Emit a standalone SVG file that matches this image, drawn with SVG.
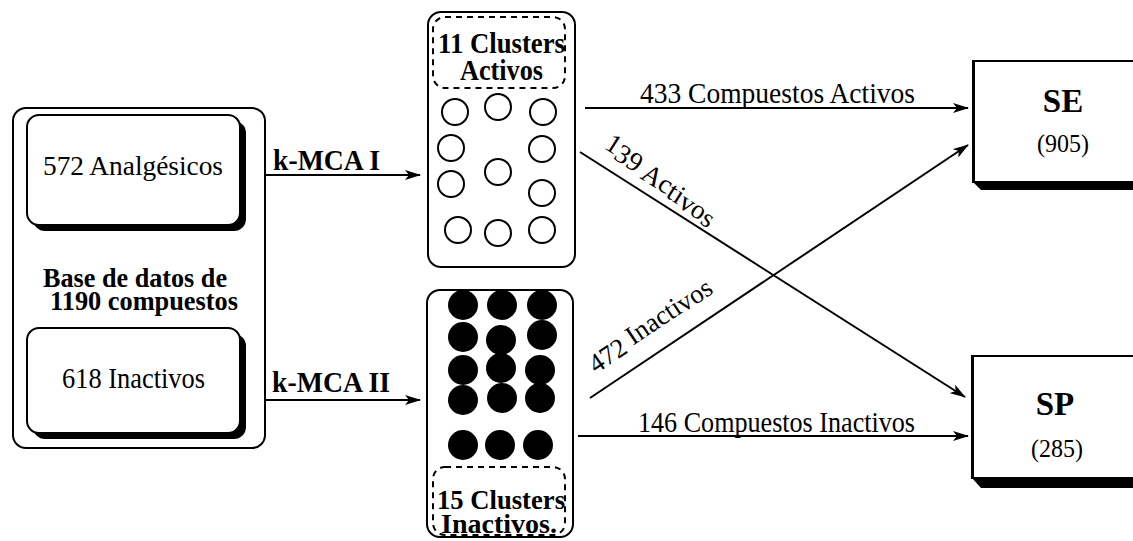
<svg xmlns="http://www.w3.org/2000/svg" width="1133" height="541" viewBox="0 0 1133 541">
<style>
.b{font-weight:bold}
.box{fill:#fff;stroke:#000;stroke-width:2}
.sh{fill:#000}
.dash{fill:none;stroke:#000;stroke-width:2;stroke-dasharray:6,5}
.oc{fill:#fff;stroke:#000;stroke-width:2}
.fc{fill:#000}
.con{stroke:#000;stroke-width:2;fill:none;marker-end:url(#ah)}
</style>
<defs>
<marker id="ah" viewBox="0 0 16 10" refX="15" refY="5" markerWidth="16" markerHeight="10" markerUnits="userSpaceOnUse" orient="auto">
<path d="M0,0 L16,5 L0,10 L4,5 Z" fill="#000"/>
</marker>
</defs>
<rect width="1133" height="541" fill="#fff"/>

<g id="database">
<rect class="box" x="13" y="108" width="252" height="340" rx="13"/>
<text class="b" x="43" y="287" font-size="28" textLength="184" lengthAdjust="spacingAndGlyphs" font-family="Liberation Serif">Base de datos de</text>
<text class="b" x="50" y="310" font-size="28" textLength="188" lengthAdjust="spacingAndGlyphs" font-family="Liberation Serif">1190 compuestos</text>
</g>

<g id="analgesicos">
<rect class="sh" x="33" y="121" width="213" height="110" rx="12"/>
<rect class="box" x="27" y="115" width="213" height="110" rx="12"/>
<text x="43" y="175" font-size="28" textLength="180" lengthAdjust="spacingAndGlyphs" font-family="Liberation Serif">572 Analgésicos</text>
</g>

<g id="inactivos">
<rect class="sh" x="33" y="334" width="213" height="105" rx="12"/>
<rect class="box" x="27" y="328" width="213" height="105" rx="12"/>
<text x="62" y="388" font-size="29" textLength="143" lengthAdjust="spacingAndGlyphs" font-family="Liberation Serif">618 Inactivos</text>
</g>

<g id="clusters-activos">
<rect class="box" x="428" y="12" width="147" height="255" rx="13"/>
<rect class="dash" x="433" y="17" width="132" height="71" rx="12"/>
<text class="b" x="438" y="53" font-size="29" textLength="127" lengthAdjust="spacingAndGlyphs" font-family="Liberation Serif">11 Clusters</text>
<text class="b" x="460" y="80" font-size="29" textLength="83" lengthAdjust="spacingAndGlyphs" font-family="Liberation Serif">Activos</text>
<ellipse class="oc" cx="455" cy="112" rx="13" ry="13"/>
<ellipse class="oc" cx="498" cy="107" rx="13" ry="13"/>
<ellipse class="oc" cx="543" cy="112" rx="13" ry="13"/>
<ellipse class="oc" cx="451" cy="148" rx="13" ry="13"/>
<ellipse class="oc" cx="542" cy="149" rx="13" ry="13"/>
<ellipse class="oc" cx="498" cy="172" rx="13" ry="13"/>
<ellipse class="oc" cx="451" cy="184" rx="13" ry="13"/>
<ellipse class="oc" cx="542" cy="193" rx="13" ry="13"/>
<ellipse class="oc" cx="458" cy="230" rx="13" ry="13"/>
<ellipse class="oc" cx="498" cy="233" rx="13" ry="13"/>
<ellipse class="oc" cx="542" cy="230" rx="13" ry="13"/>
</g>

<g id="clusters-inactivos">
<rect class="box" x="427" y="290" width="146" height="247" rx="13"/>
<rect class="dash" x="433" y="467" width="132" height="68" rx="12"/>
<text class="b" x="437" y="509" font-size="28" textLength="128" lengthAdjust="spacingAndGlyphs" font-family="Liberation Serif">15 Clusters</text>
<text class="b" x="441" y="533" font-size="28" textLength="116" lengthAdjust="spacingAndGlyphs" font-family="Liberation Serif">Inactivos.</text>
<circle class="fc" cx="463" cy="305" r="15"/>
<circle class="fc" cx="502" cy="305" r="15"/>
<circle class="fc" cx="542" cy="305" r="15"/>
<circle class="fc" cx="463" cy="337" r="15"/>
<circle class="fc" cx="501" cy="340" r="15"/>
<circle class="fc" cx="542" cy="335" r="15"/>
<circle class="fc" cx="463" cy="370" r="15"/>
<circle class="fc" cx="501" cy="368" r="15"/>
<circle class="fc" cx="540" cy="370" r="15"/>
<circle class="fc" cx="463" cy="400" r="15"/>
<circle class="fc" cx="502" cy="398" r="15"/>
<circle class="fc" cx="540" cy="398" r="15"/>
<circle class="fc" cx="463" cy="445" r="15"/>
<circle class="fc" cx="500" cy="445" r="15"/>
<circle class="fc" cx="538" cy="445" r="15"/>
</g>

<g id="SE">
<polygon class="sh" points="973,182 981,190 1133,190 1133,182"/>
<rect class="box" x="973" y="61" width="180" height="121"/>
<line x1="973.5" y1="61" x2="973.5" y2="183" stroke="#000" stroke-width="3"/>
<text class="b" x="1063" y="112" font-size="33" text-anchor="middle" font-family="Liberation Serif">SE</text>
<text x="1063" y="152" font-size="26" text-anchor="middle" textLength="52" lengthAdjust="spacingAndGlyphs" font-family="Liberation Serif">(905)</text>
</g>

<g id="SP">
<polygon class="sh" points="972,478 981,488 1133,488 1133,478"/>
<rect class="box" x="972" y="356" width="180" height="122"/>
<line x1="972.5" y1="356" x2="972.5" y2="479" stroke="#000" stroke-width="3"/>
<text class="b" x="1055" y="415" font-size="33" text-anchor="middle" font-family="Liberation Serif">SP</text>
<text x="1057" y="457" font-size="26" text-anchor="middle" textLength="52" lengthAdjust="spacingAndGlyphs" font-family="Liberation Serif">(285)</text>
</g>

<g id="connectors">
<line class="con" x1="265" y1="175" x2="420" y2="175"/>
<line class="con" x1="265" y1="400" x2="420" y2="400"/>
<line class="con" x1="585" y1="108" x2="968" y2="108"/>
<line class="con" x1="580" y1="152" x2="965" y2="397"/>
<line class="con" x1="590" y1="398" x2="968" y2="145"/>
<line class="con" x1="578" y1="436" x2="968" y2="436"/>
<text class="b" x="273" y="170" font-size="29" textLength="107" lengthAdjust="spacingAndGlyphs" font-family="Liberation Serif">k-MCA I</text>
<text class="b" x="272" y="392" font-size="29" textLength="118" lengthAdjust="spacingAndGlyphs" font-family="Liberation Serif">k-MCA II</text>
<text x="640" y="103" font-size="30" textLength="275" lengthAdjust="spacingAndGlyphs" font-family="Liberation Serif">433 Compuestos Activos</text>
<text x="638" y="432" font-size="29" textLength="277" lengthAdjust="spacingAndGlyphs" font-family="Liberation Serif">146 Compuestos Inactivos</text>
<text font-size="27" transform="translate(601,151) rotate(32.5)" textLength="132" lengthAdjust="spacingAndGlyphs" font-family="Liberation Serif"><tspan dy="-4">1</tspan><tspan dy="4">39 </tspan><tspan dy="2">Ac</tspan><tspan dy="2">ti</tspan><tspan dy="2">vo</tspan><tspan dy="2">s</tspan></text>
<text font-size="27" transform="translate(596,374) rotate(-33.8)" textLength="144" lengthAdjust="spacingAndGlyphs" font-family="Liberation Serif">472 <tspan dy="-3">Inacti</tspan><tspan dy="1">vos</tspan></text>
</g>
</svg>
